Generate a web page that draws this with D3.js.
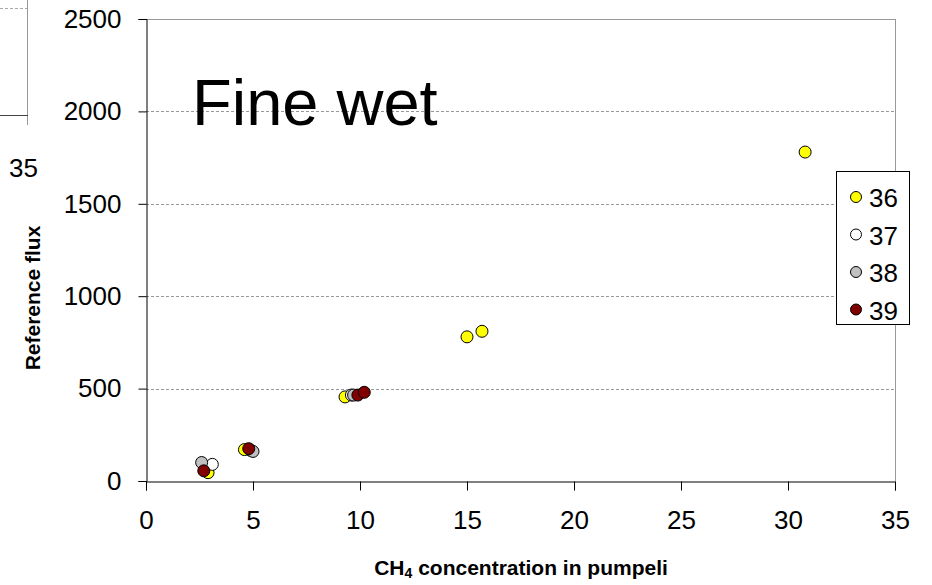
<!DOCTYPE html>
<html><head><meta charset="utf-8">
<script src="https://cdn.jsdelivr.net/npm/d3@7"></script>
<style>body{margin:0;background:#fff;} svg{display:block;font-family:"Liberation Sans",Arial,sans-serif;}</style>
</head><body>
<svg id="c" width="932" height="585"></svg>
<script>
const seriesNames = ["36","37","38","39"];
const seriesColors = ["#ffff00","#ffffff","#c0c0c0","#800000"];
const s36x = [2.9, 4.6, 9.3, 15.0, 15.7, 30.8];
const s36y = [45, 170, 455, 780, 810, 1780];
const s37x = [3.1, 4.9, 9.6];
const s37y = [90, 165, 465];
const s38x = [2.6, 5.0, 9.7];
const s38y = [100, 160, 465];
const s39x = [2.7, 4.8, 9.9, 10.2];
const s39y = [55, 175, 465, 480];
const xTicks = [0,5,10,15,20,25,30,35];
const yTicks = [0,500,1000,1500,2000,2500];

const FONT = "Liberation Sans, Arial, sans-serif";
const svg = d3.select("#c");
const x = d3.scaleLinear().domain([0,35]).range([146,895]);
const y = d3.scaleLinear().domain([0,2500]).range([481,19]);

// fragment of neighbouring chart (top-left)
svg.append("line").attr("x1",0).attr("x2",27).attr("y1",8.5).attr("y2",8.5).attr("stroke","#aaa").attr("stroke-dasharray","3,2");
svg.append("line").attr("x1",27.5).attr("x2",27.5).attr("y1",0).attr("y2",125).attr("stroke","#999");
svg.append("line").attr("x1",0).attr("x2",28).attr("y1",115.5).attr("y2",115.5).attr("stroke","#444");
svg.append("text").attr("x",9).attr("y",177).attr("font-size",26).text("35");

// gridlines
svg.append("g").selectAll("line").data(yTicks.filter(d=>d>0)).join("line")
  .attr("x1",x(0)).attr("x2",x(35))
  .attr("y1",d=>Math.round(y(d))+0.5).attr("y2",d=>Math.round(y(d))+0.5)
  .attr("stroke","#999").attr("stroke-dasharray",d=>d===2500?null:"3,2");
// right border
svg.append("line").attr("x1",x(35)+0.5).attr("x2",x(35)+0.5).attr("y1",y(2500)).attr("y2",y(0)).attr("stroke","#999");

// axes
const yAxis = d3.axisLeft(y).tickValues(yTicks).tickFormat(d3.format("d")).tickSize(8).tickPadding(17);
const gy = svg.append("g").attr("transform",`translate(${x(0)+0.5},0)`).call(yAxis);
gy.attr("font-size",26).attr("font-family",FONT);
gy.select(".domain").attr("stroke","#000");
gy.selectAll(".tick line").attr("stroke","#000");
gy.selectAll("text").attr("fill","#000");

const xAxis = d3.axisBottom(x).tickValues(xTicks).tickFormat(d3.format("d")).tickSize(9).tickPadding(20);
const gx = svg.append("g").attr("transform",`translate(0,${Math.round(y(0))+0.5})`).call(xAxis);
gx.attr("font-size",26).attr("font-family",FONT);
gx.select(".domain").attr("stroke","#000");
gx.selectAll(".tick line").attr("stroke","#000");
gx.selectAll("text").attr("fill","#000");

// title
svg.append("text").attr("x",192).attr("y",125).attr("font-size",65).text("Fine wet");

// axis labels
svg.append("text").attr("transform","translate(40,298) rotate(-90)").attr("text-anchor","middle")
  .attr("font-size",21).attr("font-weight","bold").text("Reference flux");
const xl = svg.append("text").attr("x",521).attr("y",575).attr("text-anchor","middle").attr("font-size",21).attr("font-weight","bold");
xl.append("tspan").text("CH");
xl.append("tspan").attr("font-size",14).attr("dy",3).text("4");
xl.append("tspan").attr("dy",-3).text(" concentration in pumpeli");

// points
const data = [[s36x,s36y],[s37x,s37y],[s38x,s38y],[s39x,s39y]];
data.forEach((s,i)=>{
  svg.append("g").selectAll("circle").data(s[0].map((v,j)=>[v,s[1][j]])).join("circle")
    .attr("cx",d=>x(d[0])).attr("cy",d=>y(d[1])).attr("r",6)
    .attr("fill",seriesColors[i]).attr("stroke","#000").attr("stroke-width",1);
});

// legend
const lg = svg.append("g");
lg.append("rect").attr("x",836.5).attr("y",171.5).attr("width",73).attr("height",153).attr("fill","#fff").attr("stroke","#000");
seriesNames.forEach((n,i)=>{
  const cy = 197 + i*37.5;
  lg.append("circle").attr("cx",856).attr("cy",cy).attr("r",5.5).attr("fill",seriesColors[i]).attr("stroke","#000");
  lg.append("text").attr("x",869).attr("y",cy+10).attr("font-size",26).text(n);
});
</script>
</body></html>
